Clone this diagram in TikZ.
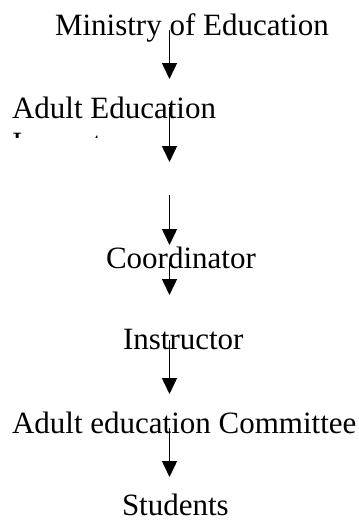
\documentclass[tikz,border=0pt]{standalone}
\usepackage{fontspec}
\setmainfont{Liberation Serif}
\usetikzlibrary{arrows.meta}
\begin{document}
\begin{tikzpicture}[x=0.5pt, y=-0.5pt, font=\fontsize{15.5}{18.6}\selectfont, every node/.style={inner sep=0pt, outer sep=0pt, anchor=base west}, down/.style={-{Triangle[width=7.5pt, length=8pt]}, line width=0.75pt}]
        \useasboundingbox (0, 0) rectangle (359, 520);

        \node (ministry) at (55, 35) {Ministry of Education};
        \node (adult) at (12, 118) {Adult Education};
        % second line of the box is cut off by the frame
        \begin{scope}
            \clip (0, 100) rectangle (359, 137);
            \node (inspector) at (12, 153) {Inspector};
        \end{scope}
        \node (coordinator) at (106, 268) {Coordinator};
        \node (instructor) at (123, 349) {Instructor};
        \node (committee) at (12, 433) {Adult education Committee};
        \node (students) at (122, 515) {Students};

        \coordinate (s1) at (169.5, 30);  \coordinate (e1) at (169.5, 79);
        \coordinate (s2) at (169.5, 107); \coordinate (e2) at (169.5, 162);
        \coordinate (s3) at (169.5, 195); \coordinate (e3) at (169.5, 245);
        \coordinate (s4) at (169.5, 263); \coordinate (e4) at (169.5, 295);
        \coordinate (s5) at (169.5, 340); \coordinate (e5) at (169.5, 394);
        \coordinate (s6) at (169.5, 428); \coordinate (e6) at (169.5, 477);

        \draw[down] (s1) -- (e1);
        \draw[down] (s2) -- (e2);
        \draw[down] (s3) -- (e3);
        \draw[down] (s4) -- (e4);
        \draw[down] (s5) -- (e5);
        \draw[down] (s6) -- (e6);
    \end{tikzpicture}
\end{document}
